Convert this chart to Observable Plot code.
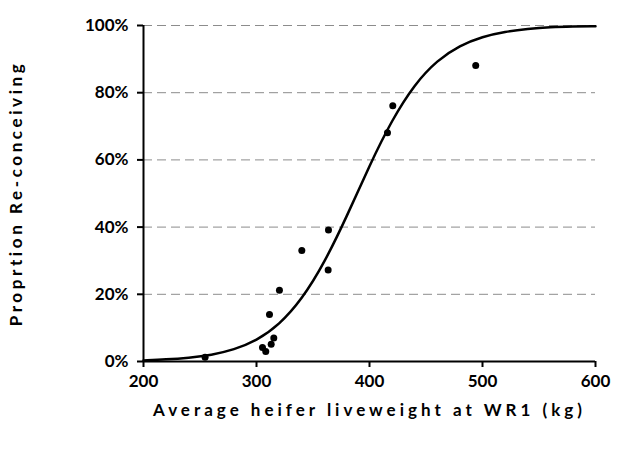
<!DOCTYPE html>
<html><head><meta charset="utf-8">
<script src="https://cdn.jsdelivr.net/npm/d3@7"></script>
<script src="https://cdn.jsdelivr.net/npm/@observablehq/plot@0.6"></script>
<style>body{margin:0;background:#fff;} svg{display:block;}</style>
</head><body><div id="chart"></div>
<script>
// observed points
const obsWeight = [254.5, 305.3, 308.2, 313.0, 315.3, 311.5, 320.3, 340.1, 363.7, 363.4, 415.9, 420.6, 494.0];
const obsProp   = [0.013, 0.042, 0.030, 0.051, 0.070, 0.140, 0.212, 0.330, 0.391, 0.272, 0.681, 0.761, 0.881];
// fitted curve
const curveWeight = [200,220,240,260,280,300,320,340,360,380,400,420,440,460,480,500,520,540,560,580,600];
const curveProp   = [0.003,0.006,0.011,0.019,0.035,0.062,0.109,0.184,0.293,0.432,0.584,0.720,0.826,0.897,0.941,0.967,0.982,0.990,0.995,0.997,0.998];
const xTicks = [200,300,400,500,600];
const yTicks = [0,0.2,0.4,0.6,0.8,1.0];

const points = obsWeight.map((w,i)=>({w, p: obsProp[i]}));
const curve = curveWeight.map((w,i)=>({w, p: curveProp[i]}));

const chart = Plot.plot({
  width: 617, height: 453,
  marginLeft: 143, marginRight: 22, marginTop: 25, marginBottom: 92,
  style: {fontFamily: "Lato, sans-serif", fontSize: "17px", fontWeight: "bold", color: "#000"},
  x: {domain: [200, 600]},
  y: {domain: [0, 1]},
  marks: [
    Plot.ruleY(yTicks.filter(d => d > 0), {stroke: "#8c8c8c", strokeDasharray: "9,5", strokeWidth: 1}),
    Plot.ruleX([200], {y1: 0, y2: 1, stroke: "#000", strokeWidth: 2}),
    Plot.ruleY([0], {x1: 200, x2: 600, stroke: "#000", strokeWidth: 2}),
    Plot.axisY({ticks: yTicks, tickFormat: d3.format(".0%"), tickSize: 6, tickPadding: 9, strokeWidth: 2,
      label: "Proprtion Re-conceiving", labelAnchor: "center", labelArrow: "none", labelOffset: 134}),
    Plot.axisX({ticks: xTicks, tickSize: 6, tickPadding: 7, strokeWidth: 2,
      label: "Average heifer liveweight at WR1 (kg)", labelAnchor: "center", labelArrow: "none", labelOffset: 54}),
    Plot.line(curve, {x: "w", y: "p", stroke: "#000", strokeWidth: 2.5, curve: "basis"}),
    Plot.dot(points, {x: "w", y: "p", r: 3.5, fill: "#000", stroke: "none"})
  ]
});
d3.select(chart).selectAll('[aria-label="x-axis label"] text')
  .style("letter-spacing", "4px").style("font-size", "17px");
d3.select(chart).selectAll('[aria-label="y-axis label"] text')
  .style("letter-spacing", "3.6px").style("font-size", "17px");
document.getElementById("chart").append(chart);
</script>
</body></html>
